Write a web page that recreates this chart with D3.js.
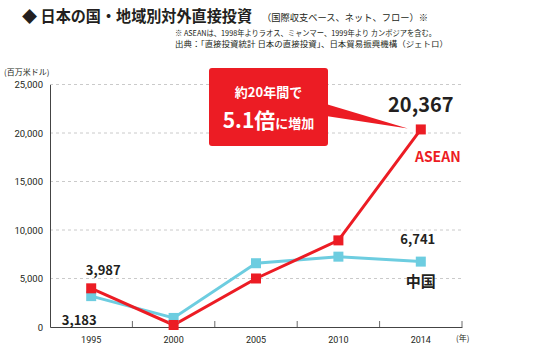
<!DOCTYPE html>
<html><head><meta charset="utf-8">
<script src="https://cdn.jsdelivr.net/npm/d3@7/dist/d3.min.js"></script>
<style>body{margin:0;background:#fff}svg{display:block;font-family:"Noto Sans CJK JP","Noto Sans",sans-serif}</style>
</head><body><svg id="c" width="540" height="352"></svg>
<script>
const years = ["1995","2000","2005","2010","2014"];
const asean = [3987, 207, 5002, 8930, 20367];
const china = [3183, 934, 6575, 7252, 6741];
const yTicks = [0, 5000, 10000, 15000, 20000, 25000];

const svg = d3.select("#c");
const red = "#ec1c24", cyan = "#6dcde0", dark = "#231f20";
const L = 50, R = 462, T = 84.5, B = 327;
const x = d3.scaleBand().domain(years).range([L, R]);
const y = d3.scaleLinear().domain([0, 25000]).range([B, T]);
const cx = d => x(d) + x.bandwidth() / 2;

// title
svg.append("text").attr("x", 22).attr("y", 22).attr("font-size", 15.5).attr("font-weight", 700).attr("fill", dark)
  .attr("textLength", 230).attr("lengthAdjust", "spacingAndGlyphs")
  .text("◆ 日本の国・地域別対外直接投資");
svg.append("text").attr("x", 262).attr("y", 21).attr("font-size", 9.5).attr("fill", dark)
  .attr("textLength", 166).attr("lengthAdjust", "spacingAndGlyphs")
  .text("（国際収支ベース、ネット、フロー）※");
svg.append("text").attr("x", 175).attr("y", 36).attr("font-size", 8).attr("fill", dark)
  .attr("textLength", 261).attr("lengthAdjust", "spacingAndGlyphs")
  .text("※ ASEANは、1998年よりラオス、ミャンマー、1999年より カンボジアを含む。");
svg.append("text").attr("x", 175).attr("y", 47).attr("font-size", 8).attr("fill", dark)
  .attr("textLength", 273).attr("lengthAdjust", "spacingAndGlyphs")
  .text("出典：「直接投資統計 日本の直接投資」、日本貿易振興機構（ジェトロ）");

// unit
svg.append("text").attr("x", 4).attr("y", 75).attr("font-size", 8).attr("fill", dark).text("(百万米ドル)");

// grid
svg.append("g").selectAll("line").data(yTicks.filter(d => d > 0)).join("line")
  .attr("x1", L).attr("x2", R).attr("y1", d => y(d)).attr("y2", d => y(d))
  .attr("stroke", "#bdbdbd").attr("stroke-width", 0.8).attr("stroke-dasharray", "3,3");

// y axis
const ya = svg.append("g").attr("transform", `translate(${L},0)`)
  .call(d3.axisLeft(y).tickValues(yTicks).tickSize(0).tickPadding(7).tickFormat(d3.format(",")));
ya.select(".domain").attr("stroke", "#444").attr("stroke-width", 1);
ya.selectAll("text").attr("font-size", 9.5).attr("fill", dark).attr("font-family", "Roboto, sans-serif");

// x axis
const xa = svg.append("g").attr("transform", `translate(0,${B})`)
  .call(d3.axisBottom(x).tickSize(0).tickPadding(10));
xa.select(".domain").attr("stroke", "#444").attr("stroke-width", 1);
xa.selectAll("text").attr("font-size", 9).attr("fill", dark).attr("font-family", "Roboto, sans-serif");
svg.append("g").selectAll("line").data(years.slice(1).concat(["end"])).join("line")
  .attr("x1", (d, i) => L + x.bandwidth() * (i + 1)).attr("x2", (d, i) => L + x.bandwidth() * (i + 1))
  .attr("y1", B).attr("y2", B - 6).attr("stroke", "#444").attr("stroke-width", 0.8);
svg.append("text").attr("x", 456).attr("y", 341).attr("font-size", 8).attr("fill", dark).text("(年)");

// lines
const line = d3.line().x((d, i) => cx(years[i])).y(d => y(d));
svg.append("path").datum(china).attr("d", line).attr("fill", "none").attr("stroke", cyan).attr("stroke-width", 3);
svg.append("path").datum(asean).attr("d", line).attr("fill", "none").attr("stroke", red).attr("stroke-width", 3);
svg.append("g").selectAll("rect").data(china).join("rect")
  .attr("x", (d, i) => cx(years[i]) - 5).attr("y", d => y(d) - 5).attr("width", 10).attr("height", 10).attr("fill", cyan);
svg.append("g").selectAll("rect").data(asean).join("rect")
  .attr("x", (d, i) => cx(years[i]) - 5).attr("y", d => y(d) - 5).attr("width", 10).attr("height", 10).attr("fill", red);

// value labels
const lab = (t, xx, yy, fs, col, anchor) => svg.append("text").attr("x", xx).attr("y", yy)
  .attr("font-size", fs).attr("font-weight", 700).attr("fill", col || dark).attr("text-anchor", anchor || "middle")
  .attr("font-family", "'Noto Sans CJK JP', 'Noto Sans', sans-serif").text(t);
const p14 = cx("2014");
lab(d3.format(",")(asean[0]), cx("1995") + 12, y(asean[0]) - 13, 13);
lab(d3.format(",")(china[0]), cx("1995") - 12, y(china[0]) + 29, 13);
lab(d3.format(",")(asean[4]), p14, y(asean[4]) - 17, 20);
lab("ASEAN", p14 + 17, y(asean[4]) + 33, 14, red);
lab(d3.format(",")(china[4]), p14 - 3, y(china[4]) - 18, 13);
lab("中国", p14, y(china[4]) + 25, 15);

// callout
const bx = 209, by = 68, bw = 119, bh = 78;
const tipX = p14 - 13, tipY = y(asean[4]) - 1;
svg.append("path").attr("d", `M${bx + bw - 2},${by + 36} L${tipX},${tipY} L${bx + bw - 2},${by + 48} Z`).attr("fill", red);
svg.append("rect").attr("x", bx).attr("y", by).attr("width", bw).attr("height", bh).attr("rx", 3).attr("fill", red);
svg.append("text").attr("x", bx + bw / 2).attr("y", by + 29).attr("text-anchor", "middle").attr("font-size", 13)
  .attr("font-weight", 700).attr("fill", "#fff").text("約20年間で");
const t2 = svg.append("text").attr("x", bx + bw / 2).attr("y", by + 60).attr("text-anchor", "middle")
  .attr("font-weight", 700).attr("fill", "#fff");
t2.append("tspan").attr("font-size", 21).text("5.1倍");
t2.append("tspan").attr("font-size", 13).text("に増加");
</script></body></html>
